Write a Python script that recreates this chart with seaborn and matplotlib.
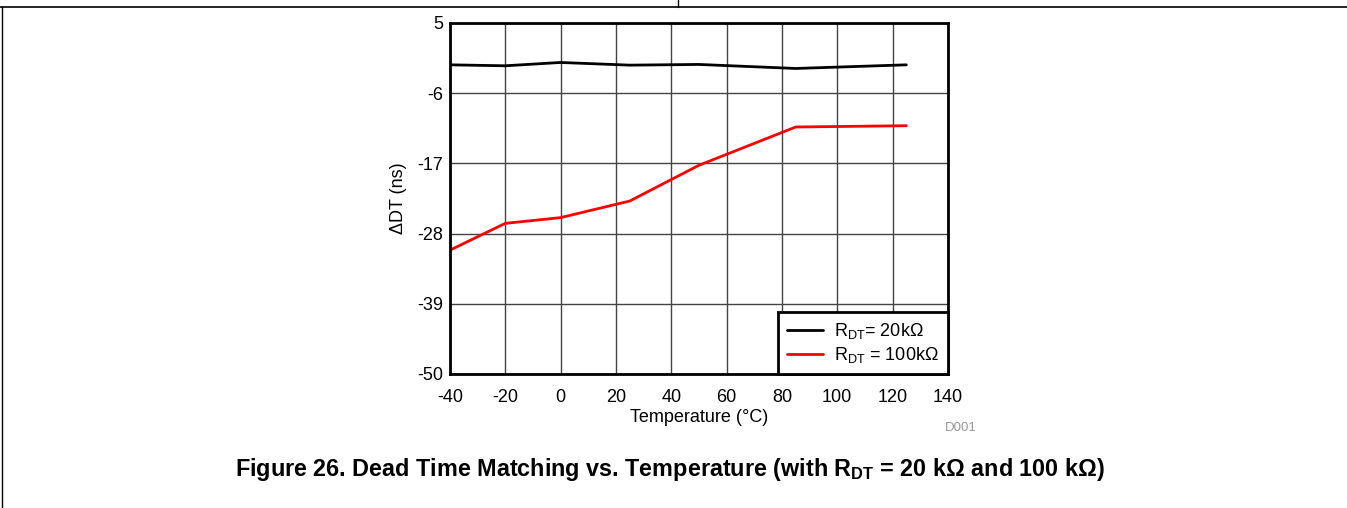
import numpy as np
import pandas as pd
import matplotlib
matplotlib.use("Agg")
import matplotlib.pyplot as plt
import seaborn as sns

# 温度 (°C)
temp = [-40, -20, 0, 25, 50, 85, 125]
# ΔDT (ns)
dt_20k = [-1.56, -1.71, -1.19, -1.61, -1.50, -2.13, -1.56]
dt_100k = [-30.6, -26.4, -25.5, -22.9, -17.3, -11.3, -11.1]

x_ticks = [-40, -20, 0, 20, 40, 60, 80, 100, 120, 140]
y_ticks = [-50, -39, -28, -17, -6, 5]

df = pd.DataFrame({
    "temp": temp * 2,
    "dt": dt_20k + dt_100k,
    "series": ["20k"] * len(temp) + ["100k"] * len(temp),
})

sns.set_style("white")
plt.rcParams['font.family'] = ['Liberation Sans', 'DejaVu Sans']
plt.rcParams['mathtext.fontset'] = 'custom'
plt.rcParams['mathtext.rm'] = 'Liberation Sans'
plt.rcParams['mathtext.bf'] = 'Liberation Sans:bold'
plt.rcParams['axes.unicode_minus'] = False
plt.rcParams['text.color'] = 'black'
plt.rcParams['axes.labelcolor'] = 'black'
plt.rcParams['xtick.color'] = 'black'
plt.rcParams['ytick.color'] = 'black'

fig = plt.figure(figsize=(13.47, 5.08), dpi=100)
ax = fig.add_axes([0.334, 0.2638, 0.3697, 0.691])

sns.lineplot(data=df, x="temp", y="dt", hue="series",
             palette={"20k": "black", "100k": "#ff0000"},
             linewidth=2, ax=ax, legend=False)

ax.set_xlim(-40, 140)
ax.set_ylim(-50, 5)
ax.set_xticks(x_ticks)
ax.set_yticks(y_ticks)
ax.grid(True, color="#444444", linewidth=1)
ax.tick_params(length=0, labelsize=13)
ax.tick_params(axis="x", pad=11)
ax.tick_params(axis="y", pad=5)
for s in ax.spines.values():
    s.set_color("black")
    s.set_linewidth(2)

ax.set_xlabel("Temperature (°C)", fontsize=13, labelpad=2)
ax.set_ylabel("ΔDT (ns)", fontsize=13, labelpad=7)

h1, = ax.plot([], [], color="black", linewidth=2)
h2, = ax.plot([], [], color="#ff0000", linewidth=2)
leg = ax.legend([h1, h2], [r"R$_{\rm DT}$= 20kΩ", r"R$_{\rm DT}$ = 100kΩ"],
                loc="lower right", fontsize=13, fancybox=False,
                framealpha=1, borderaxespad=0, handlelength=2.0,
                handletextpad=0.6, labelspacing=0.2, borderpad=0.5)
leg.get_frame().set_edgecolor("black")
leg.get_frame().set_linewidth(2)

fig.text(0.7016, 0.152, "D001", fontsize=9.5, color="#999999")

fig.text(0.4975, 0.063,
         r"Figure 26. Dead Time Matching vs. Temperature (with $\mathbf{R_{DT}}$ = 20 k$\mathbf{\Omega}$ and 100 k$\mathbf{\Omega}$)",
         fontsize=16.8, fontweight="bold", ha="center")

# 枠線
fig.add_artist(plt.Line2D([0, 1], [1 - 7 / 508, 1 - 7 / 508], color="black", linewidth=1.2))
fig.add_artist(plt.Line2D([678 / 1347, 678 / 1347], [1, 1 - 7 / 508], color="black", linewidth=1))
fig.add_artist(plt.Line2D([2 / 1347, 2 / 1347], [0, 1 - 7 / 508], color="black", linewidth=1))

fig.savefig("out.png", dpi=100)
